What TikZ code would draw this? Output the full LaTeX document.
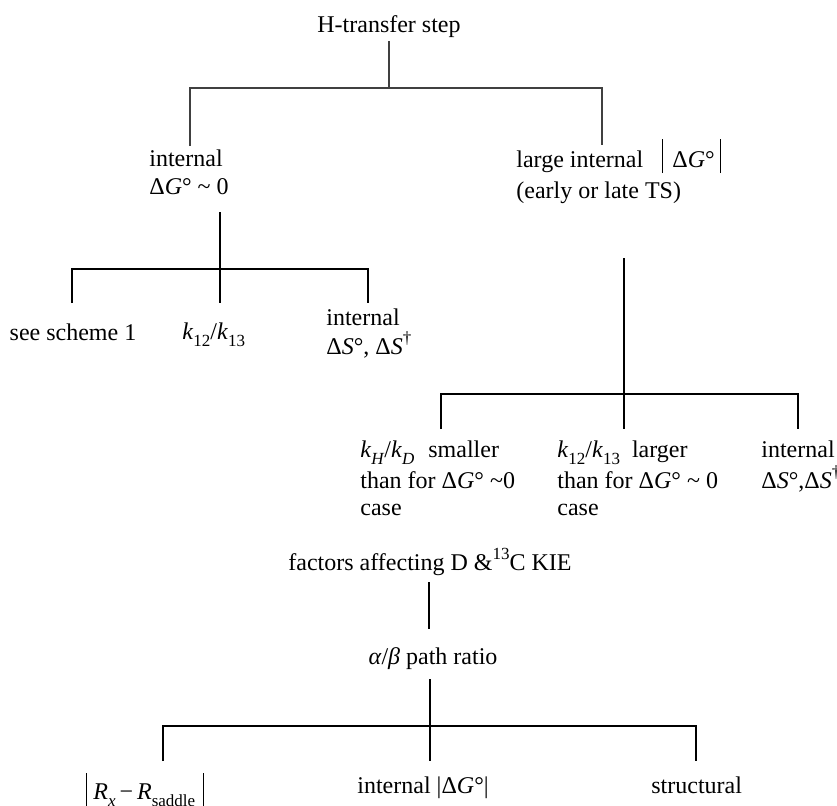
\documentclass[tikz,border=0pt]{standalone}
\usepackage{fontspec}
\setmainfont{Liberation Serif}
\newcommand\sbx[1]{\raisebox{-0.32em}{\fontsize{8.5}{9}\selectfont #1}}
\newcommand\spx[1]{\raisebox{0.42em}{\fontsize{8.5}{9}\selectfont #1}}
\newcommand\dG{Δ\textit{G}°}
\newcommand\tld{\textasciitilde}
\begin{document}
\begin{tikzpicture}[x=0.5pt,y=-0.5pt,
  lbl/.style={inner sep=0pt, anchor=base west, font=\fontsize{12}{14}\selectfont},
  clbl/.style={lbl, anchor=base},
  tree/.style={line width=0.75pt, black},
  toptree/.style={line width=0.9pt, black!75}]
\useasboundingbox (0,0) rectangle (837,805);

% ---------- top level ----------
\node[clbl] (root) at (389,32) {H-transfer step};
\coordinate (r0) at (389,41);
\coordinate (rj) at (389,88);
\coordinate (rl) at (190,88);
\coordinate (rr) at (602,88);
\coordinate (rle) at (190,146);
\coordinate (rre) at (602,145);
\draw[toptree] (r0) -- (rj);
\draw[toptree] (rle) -- (rl) -- (rr) -- (rre);

% ---------- left branch ----------
\node[lbl] (a1) at (149,166) {internal};
\node[lbl] (a2) at (149,194) {\dG\ \tld\ 0};
\coordinate (a0) at (220,212);
\coordinate (aj) at (220,269);
\coordinate (al) at (72,269);
\coordinate (ar) at (368,269);
\coordinate (ale) at (72,303);
\coordinate (ame) at (220,303);
\coordinate (are) at (368,303);
\draw[tree] (a0) -- (ame);
\draw[tree] (ale) -- (al) -- (ar) -- (are);
\node[clbl] (b1) at (73,340) {see scheme 1};
\node[lbl] (b2) at (182,339) {\textit{k}\sbx{12}/\textit{k}\sbx{13}};
\node[lbl] (b3a) at (326,325) {internal};
\node[lbl] (b3b) at (326,354) {Δ\textit{S}°, Δ\textit{S}\spx{†}};

% ---------- right branch ----------
\node[lbl] (c1) at (516,167) {large internal};
\node[lbl] (c1g) at (662,167) {\rule[-3pt]{0.5pt}{17pt}\hspace{4.5pt}\dG\hspace{2.5pt}\rule[-3pt]{0.5pt}{17pt}};
\node[lbl] (c2) at (516,198) {(early or late TS)};
\coordinate (c0) at (624,258);
\coordinate (cj) at (624,394);
\coordinate (cl) at (441,394);
\coordinate (cr) at (798,394);
\coordinate (cle) at (441,429);
\coordinate (cme) at (624,429);
\coordinate (cre) at (798,429);
\draw[tree] (c0) -- (cme);
\draw[tree] (cle) -- (cl) -- (cr) -- (cre);

\node[lbl] (d1a) at (360,457) {\textit{k}\sbx{\textit{H}}/\textit{k}\sbx{\textit{D}}\hspace{7pt}smaller};
\node[lbl] (d1b) at (360,488) {than for \dG\ \tld0};
\node[lbl] (d1c) at (360,515) {case};
\node[lbl] (d2a) at (557,457) {\textit{k}\sbx{12}/\textit{k}\sbx{13}\ \ larger};
\node[lbl] (d2b) at (557,488) {than for \dG\ \tld\ 0};
\node[lbl] (d2c) at (557,515) {case};
\node[lbl] (d3a) at (761,457) {internal};
\node[lbl] (d3b) at (761,488) {Δ\textit{S}°,Δ\textit{S}\spx{†}};

% ---------- bottom tree ----------
\node[clbl] (e1) at (430,570) {factors affecting D \&\spx{13}C KIE};
\coordinate (e0) at (429,582);
\coordinate (ee) at (429,629);
\draw[tree] (e0) -- (ee);
\node[clbl] (f1) at (433,664) {\textit{α}/\textit{β} path ratio};
\coordinate (f0) at (430,679);
\coordinate (fj) at (430,726);
\coordinate (fl) at (163,726);
\coordinate (fr) at (696,726);
\coordinate (fle) at (163,761);
\coordinate (fme) at (430,761);
\coordinate (fre) at (696,761);
\draw[tree] (f0) -- (fme);
\draw[tree] (fle) -- (fl) -- (fr) -- (fre);
\node[lbl] (g1) at (86,799) {\rule[-6pt]{0.5pt}{19pt}\hspace{3pt}\textit{R}\sbx{\textit{x}}\,−\,\textit{R}\sbx{saddle}\hspace{4pt}\rule[-6pt]{0.5pt}{19pt}};
\node[lbl] (g2) at (357,793) {internal \textbar\dG\textbar};
\node[lbl] (g3) at (651,793) {structural};
\end{tikzpicture}
\end{document}
